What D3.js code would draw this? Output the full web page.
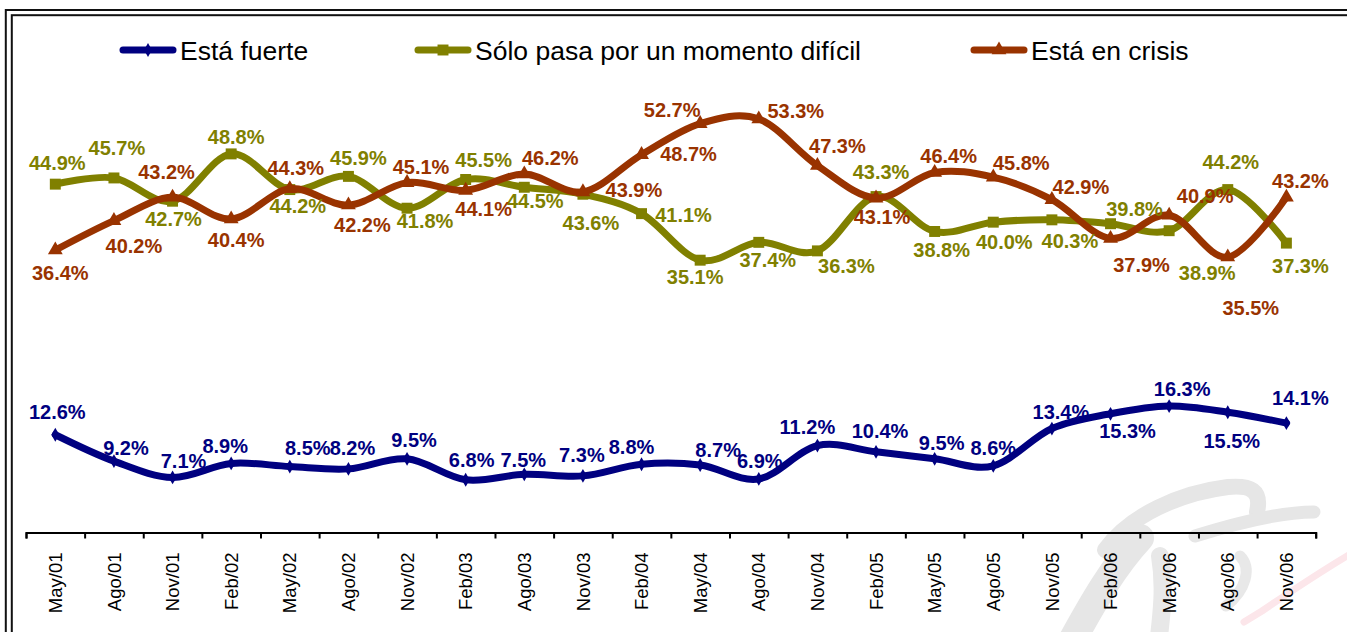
<!DOCTYPE html>
<html><head><meta charset="utf-8">
<script src="https://cdn.jsdelivr.net/npm/d3@7"></script>
<style>
body{margin:0;background:#fff;}
svg{display:block;font-family:"Liberation Sans",Arial,sans-serif;}
</style>
</head><body>
<svg id="c" width="1347" height="632"></svg>
<script>
const categories = ["May/01","Ago/01","Nov/01","Feb/02","May/02","Ago/02","Nov/02","Feb/03","Ago/03","Nov/03","Feb/04","May/04","Ago/04","Nov/04","Feb/05","May/05","Ago/05","Nov/05","Feb/06","May/06","Ago/06","Nov/06"];
const fuerte  = [12.6, 9.2, 7.1, 8.9, 8.5, 8.2, 9.5, 6.8, 7.5, 7.3, 8.8, 8.7, 6.9, 11.2, 10.4, 9.5, 8.6, 13.4, 15.3, 16.3, 15.5, 14.1];
const momento = [44.9, 45.7, 42.7, 48.8, 44.2, 45.9, 41.8, 45.5, 44.5, 43.6, 41.1, 35.1, 37.4, 36.3, 43.3, 38.8, 40.0, 40.3, 39.8, 38.9, 44.2, 37.3];
const crisis  = [36.4, 40.2, 43.2, 40.4, 44.3, 42.2, 45.1, 44.1, 46.2, 43.9, 48.7, 52.7, 53.3, 47.3, 43.1, 46.4, 45.8, 42.9, 37.9, 40.9, 35.5, 43.2];
const seriesNames = ["Está fuerte", "Sólo pasa por un momento difícil", "Está en crisis"];
const yDomain = [0, 60];

// label placement offsets (px) relative to each point — layout only
const fuerteLabelOff  = [[2,-23],[12,-13],[11,-16],[-6,-17],[18,-19],[4,-21],[7,-19],[6,-20],[-1,-14],[-1,-21],[-10,-17],[18,-15],[1,-18],[-10,-19],[4,-21],[7,-16],[0,-18],[9,-17],[17,17],[13,-17],[4,29],[14,-25]];
const momentoLabelOff = [[2,-21],[3,-30],[1,18],[5,-17],[8,16],[10,-18],[18,13],[18,-19],[11,14],[8,29],[42,1],[-5,17],[9,18],[29,15],[5,-25],[7,19],[11,20],[18,21],[24,-15],[38,42],[3,-28],[14,23]];
const crisisLabelOff  = [[5,23],[20,25],[-6,-25],[5,21],[6,-21],[14,20],[14,-16],[18,19],[26,-16],[51,-2],[47,-1],[-28,-14],[37,-8],[20,-20],[6,19],[14,-17],[28,-14],[29,-13],[31,27],[36,-19],[23,51],[14,-16]];

const svg = d3.select("#c");

// watermark (decorative, faint)
const wm = svg.append("g").attr("fill","none").attr("stroke-linecap","round").attr("stroke-linejoin","round");
wm.append("path").attr("d","M1105,550 C1130,515 1180,493 1228,487 C1250,485 1262,490 1257,512").attr("stroke","#e6e6e6").attr("stroke-width",16);
wm.append("path").attr("d","M1068,648 C1093,602 1114,566 1140,538").attr("stroke","#e6e6e6").attr("stroke-width",28);
wm.append("path").attr("d","M1160,556 C1165,585 1162,612 1158,645").attr("stroke","#e8e8e8").attr("stroke-width",18);
wm.append("path").attr("d","M1195,536 C1240,522 1285,512 1314,512").attr("stroke","#e6e6e6").attr("stroke-width",13);
wm.append("path").attr("d","M1240,556 C1252,568 1246,590 1226,606").attr("stroke","#e8e8e8").attr("stroke-width",11);
wm.append("path").attr("d","M1244,622 L1262,611 C1290,592 1320,572 1352,553").attr("stroke","#fce6ea").attr("stroke-width",7);

// frame
svg.append("rect").attr("x",5.8).attr("y",10).attr("width",1400).attr("height",700)
  .attr("fill","none").attr("stroke","#111").attr("stroke-width",2);
svg.append("rect").attr("x",11.8).attr("y",15.2).attr("width",1400).attr("height",700)
  .attr("fill","none").attr("stroke","#111").attr("stroke-width",2);

const x = d3.scaleBand().domain(categories).range([26, 1315.7]).paddingInner(0).paddingOuter(0);
const xb = d3.scaleLinear().domain([0, categories.length]).range([26, 1315.7]);
const y = d3.scaleLinear().domain(yDomain).range([532.5, 67]);
const cx = c => x(c) + x.bandwidth()/2;

// axis with boundary ticks
const axB = svg.append("g").attr("transform","translate(0,532.5)")
  .call(d3.axisBottom(xb).tickValues(d3.range(categories.length+1)).tickFormat("").tickSize(6).tickSizeOuter(6));
axB.select(".domain").attr("stroke","#000").attr("stroke-width",2);
axB.selectAll(".tick line").attr("stroke","#000").attr("stroke-width",2);

const axL = svg.append("g").attr("transform","translate(0,532.5)")
  .call(d3.axisBottom(x).tickSize(0));
axL.select(".domain").remove();
axL.selectAll(".tick text")
  .attr("transform","rotate(-90)")
  .attr("text-anchor","end")
  .attr("x",-20).attr("y",0).attr("dy","0.36em")
  .attr("font-family","'Liberation Sans',Arial,sans-serif")
  .attr("font-size",18.5).attr("fill","#000");

const series = [
  {name: seriesNames[0], values: fuerte,  off: fuerteLabelOff,  color:"#000080", sym:d3.symbolDiamond, size:55},
  {name: seriesNames[1], values: momento, off: momentoLabelOff, color:"#808000", sym:d3.symbolSquare,  size:120},
  {name: seriesNames[2], values: crisis,  off: crisisLabelOff,  color:"#993300", sym:d3.symbolTriangle, size:95}
];

const line = d3.line().x((d,i)=>cx(categories[i])).y(d=>y(d)).curve(d3.curveCardinal.tension(0));

series.forEach(s=>{
  const g = svg.append("g");
  g.append("path").attr("d", line(s.values)).attr("fill","none")
    .attr("stroke", s.color).attr("stroke-width",7).attr("stroke-linejoin","round").attr("stroke-linecap","round");
  g.selectAll("path.m").data(s.values).enter().append("path").attr("class","m")
    .attr("d", d3.symbol().type(s.sym).size(s.size))
    .attr("transform",(d,i)=>`translate(${cx(categories[i])},${y(d)})`)
    .attr("fill", s.color);
});

// data labels on top
series.forEach(s=>{
  svg.append("g").selectAll("text").data(s.values).enter().append("text")
    .attr("x",(d,i)=>cx(categories[i]) + s.off[i][0])
    .attr("y",(d,i)=>y(d) + s.off[i][1] + 7)
    .attr("text-anchor","middle")
    .attr("font-size",20).attr("font-weight","bold")
    .attr("fill", s.color)
    .text(d=>d3.format(".1f")(d)+"%");
});

// legend
const legX = [120, 415, 971];
series.forEach((s,i)=>{
  const g = svg.append("g").attr("transform",`translate(${legX[i]},50)`);
  g.append("line").attr("x1",3).attr("x2",53).attr("y1",0).attr("y2",0)
    .attr("stroke",s.color).attr("stroke-width",7).attr("stroke-linecap","round");
  g.append("path").attr("d", d3.symbol().type(s.sym).size(s.size)).attr("transform","translate(28,0)").attr("fill",s.color);
  g.append("text").attr("x",60).attr("y",10).attr("font-size",26.5).attr("fill","#000").text(s.name);
});
</script>
</body></html>
